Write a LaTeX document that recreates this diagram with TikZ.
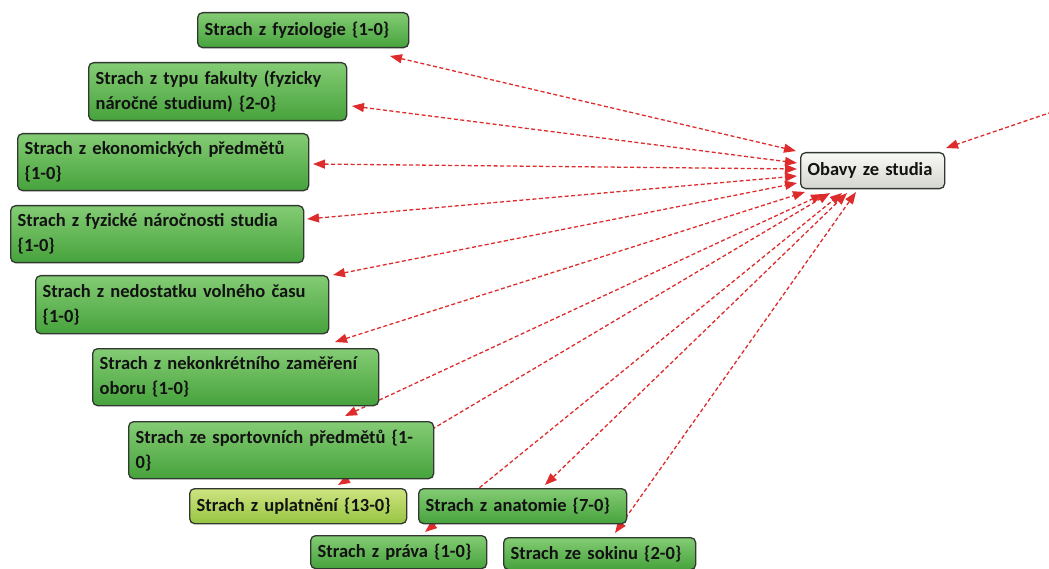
\documentclass[tikz,border=0pt]{standalone}
\usepackage{fontspec}
\setmainfont{Carlito}
\usetikzlibrary{arrows.meta,backgrounds}

\definecolor{gtop}{RGB}{132,204,116}
\definecolor{gbot}{RGB}{70,162,60}
\definecolor{ytop}{RGB}{206,228,128}
\definecolor{ybot}{RGB}{150,196,66}
\definecolor{htop}{RGB}{248,248,244}
\definecolor{hbot}{RGB}{214,214,208}
\definecolor{boxline}{RGB}{48,56,48}
\definecolor{ink}{RGB}{18,18,18}
\definecolor{linkred}{RGB}{222,44,44}

\begin{document}
\begin{tikzpicture}[x=1pt,y=-1pt,
  code/.style={draw=boxline, line width=1.3pt, rounded corners=5pt,
    top color=gtop, bottom color=gbot, text=ink,
    font=\bfseries\fontsize{18.5}{25}\selectfont, align=left,
    anchor=north west, inner xsep=7pt, inner ysep=0pt},
  weak/.style={top color=ytop, bottom color=ybot},
  hubbox/.style={top color=htop, bottom color=hbot},
  link/.style={draw=linkred, line width=1.3pt, dash pattern=on 4pt off 2.5pt,
    {Triangle[length=12pt,width=9pt]}-{Triangle[length=12pt,width=9pt]}},
  oneway/.style={draw=linkred, line width=1.3pt, dash pattern=on 4pt off 2.5pt,
    -{Triangle[length=12pt,width=9pt]}}
]
\useasboundingbox (0,0) rectangle (1049,569);

% codes
\node[code, text width=197pt, minimum height=35pt] (fyz)  at (197,12)  {Strach z fyziologie \{1-0\}};
\node[code, text width=244pt, minimum height=58pt] (fak)  at (88,62)   {Strach z typu fakulty (fyzicky\\náročné studium) \{2-0\}};
\node[code, text width=277pt, minimum height=57pt] (eko)  at (17,133)  {Strach z ekonomických předmětů\\\{1-0\}};
\node[code, text width=279pt, minimum height=57pt] (nar)  at (10,205)  {Strach z fyzické náročnosti studia\\\{1-0\}};
\node[code, text width=279pt, minimum height=58pt] (ned)  at (35,275)  {Strach z nedostatku volného času\\\{1-0\}};
\node[code, text width=272pt, minimum height=57pt] (nek)  at (92,348)  {Strach z nekonkrétního zaměření\\oboru \{1-0\}};
\node[code, text width=291pt, minimum height=57pt] (spo)  at (128,421) {Strach ze sportovních předmětů \{1-\\0\}};
\node[code, weak, text width=203pt, minimum height=35pt] (upl) at (189,488) {Strach z uplatnění \{13-0\}};
\node[code, text width=194pt, minimum height=35pt] (ana)  at (418,488) {Strach z anatomie \{7-0\}};
\node[code, text width=162pt, minimum height=33pt] (pra)  at (310,535) {Strach z práva \{1-0\}};
\node[code, text width=178pt, minimum height=32pt] (sok)  at (503,537) {Strach ze sokinu \{2-0\}};

\node[code, hubbox, text width=130pt, minimum height=36pt] (hub) at (800,152) {Obavy ze studia};

% link end points
\coordinate (fyz-e) at (390,56);   \coordinate (fyz-h) at (796,151);
\coordinate (fak-e) at (352,106);  \coordinate (fak-h) at (797,163);
\coordinate (eko-e) at (313,164);  \coordinate (eko-h) at (797,169);
\coordinate (nar-e) at (307,219);  \coordinate (nar-h) at (797,176);
\coordinate (ned-e) at (333,275);  \coordinate (ned-h) at (797,183);
\coordinate (nek-e) at (335,342);  \coordinate (nek-h) at (805,192);
\coordinate (spo-e) at (345,416);  \coordinate (spo-h) at (823,194);
\coordinate (upl-e) at (338,485);  \coordinate (upl-h) at (830,193);
\coordinate (pra-e) at (425,532);  \coordinate (pra-h) at (842,193);
\coordinate (ana-e) at (545,485);  \coordinate (ana-h) at (847,193);
\coordinate (sok-e) at (615,533);  \coordinate (sok-h) at (856,192);
\coordinate (out)   at (1052,112); \coordinate (out-h) at (946,148);

\begin{scope}[on background layer]
  \foreach \c in {fyz,fak,eko,nar,ned,nek,spo,upl,pra,ana,sok}
    \draw[link] (\c-e) -- (\c-h);
  \draw[oneway] (out) -- (out-h);
\end{scope}
\end{tikzpicture}
\end{document}
